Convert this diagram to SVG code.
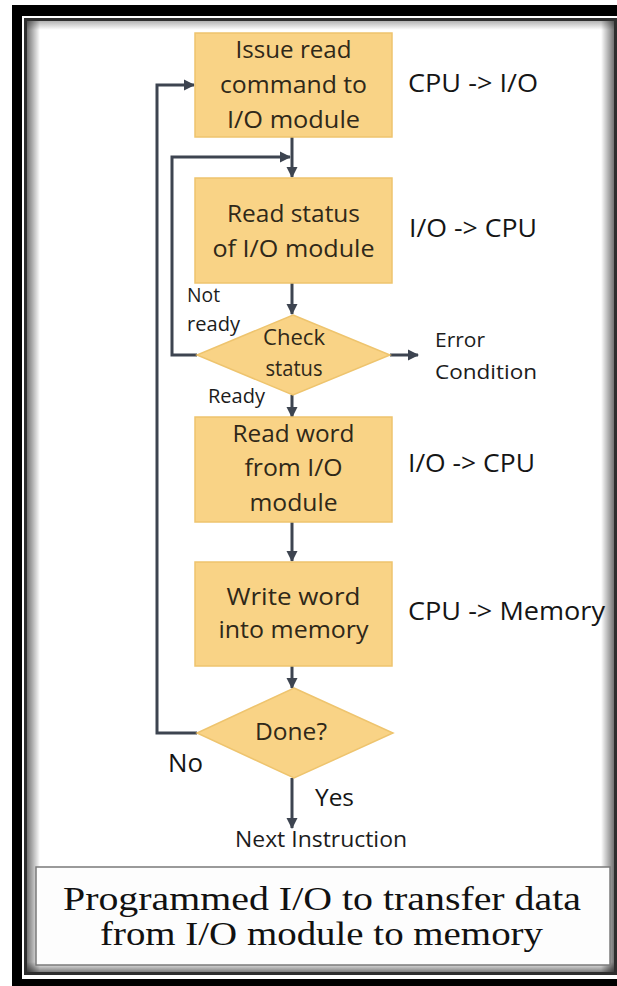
<svg xmlns="http://www.w3.org/2000/svg" width="617" height="986" viewBox="0 0 617 986">
<style>
.box{fill:#F9D386;stroke:#EEC46E;stroke-width:1.5}
.bt{font-family:"Open Sans","Noto Sans",sans-serif;font-size:24px;fill:#2f2819;text-anchor:middle}
.lt{font-family:"Open Sans","Noto Sans",sans-serif;font-size:26px;fill:#151515}
.st{font-family:"Open Sans","Noto Sans",sans-serif;font-size:20px;fill:#1c1c1c}
.cap{font-family:"Liberation Serif","DejaVu Serif",serif;font-size:33px;fill:#111;text-anchor:middle}
.ln{fill:none;stroke:#3d4450;stroke-width:3}
.ar{fill:none;stroke:#3d4450;stroke-width:3;marker-end:url(#ah)}
</style>
<defs>
<marker id="ah" markerUnits="userSpaceOnUse" markerWidth="12" markerHeight="12" refX="10" refY="5.5" orient="auto" viewBox="0 0 12 11">
<path d="M0,0 L11,5.5 L0,11 z" fill="#3d4450"/>
</marker>
<linearGradient id="gl" x1="0" y1="0" x2="1" y2="0"><stop offset="0" stop-color="#000" stop-opacity="0.55"/><stop offset="1" stop-color="#000" stop-opacity="0"/></linearGradient>
<linearGradient id="gr" x1="1" y1="0" x2="0" y2="0"><stop offset="0" stop-color="#000" stop-opacity="0.55"/><stop offset="1" stop-color="#000" stop-opacity="0"/></linearGradient>
<linearGradient id="gt" x1="0" y1="0" x2="0" y2="1"><stop offset="0" stop-color="#000" stop-opacity="0.3"/><stop offset="1" stop-color="#000" stop-opacity="0"/></linearGradient>
<linearGradient id="gb" x1="0" y1="1" x2="0" y2="0"><stop offset="0" stop-color="#000" stop-opacity="0.5"/><stop offset="1" stop-color="#000" stop-opacity="0"/></linearGradient>
</defs>

<g id="frame">
<rect x="12" y="5" width="620" height="990" fill="#000"/>
<rect x="22" y="16" width="610" height="963" fill="#fff"/>
<rect x="25.5" y="19.5" width="590" height="954" fill="#fff" stroke="#2e2e2e" stroke-width="3"/>
<rect x="27" y="21" width="13" height="951" fill="url(#gl)"/>
<rect x="601" y="21" width="13" height="951" fill="url(#gr)"/>
<rect x="27" y="21" width="587" height="9" fill="url(#gt)"/>
<rect x="27" y="962" width="587" height="10" fill="url(#gb)"/>
</g>

<g id="connectors">
<path class="ar" d="M292,137 V177"/>
<path class="ar" d="M197,355 H172 V157 H290"/>
<path class="ar" d="M292,283 V314"/>
<path class="ar" d="M390,355 H418"/>
<path class="ar" d="M292,395 V417"/>
<path class="ar" d="M292,522 V561"/>
<path class="ar" d="M292,666 V688"/>
<path class="ar" d="M197,733 H157 V85 H194"/>
<path class="ar" d="M292,778 V828"/>
</g>

<g id="issue">
<rect class="box" x="195" y="33" width="197" height="104"/>
<text class="bt" x="293.5" y="58" textLength="116" lengthAdjust="spacingAndGlyphs">Issue read</text>
<text class="bt" x="293.5" y="93" textLength="147" lengthAdjust="spacingAndGlyphs">command to</text>
<text class="bt" x="293.5" y="128" textLength="133" lengthAdjust="spacingAndGlyphs">I/O module</text>
</g>
<g id="lbl1"><text class="lt" x="408" y="92" textLength="130" lengthAdjust="spacingAndGlyphs">CPU -&gt; I/O</text></g>

<g id="readstatus">
<rect class="box" x="195" y="178" width="197" height="105"/>
<text class="bt" x="293.5" y="222" textLength="133" lengthAdjust="spacingAndGlyphs">Read status</text>
<text class="bt" x="293.5" y="257" textLength="162" lengthAdjust="spacingAndGlyphs">of I/O module</text>
</g>
<g id="lbl2"><text class="lt" x="409" y="237" textLength="128" lengthAdjust="spacingAndGlyphs">I/O -&gt; CPU</text></g>

<g id="check">
<polygon class="box" points="293,315 390,355 293,395 197,355"/>
<text class="bt" x="294" y="345" style="font-size:21px" textLength="62" lengthAdjust="spacingAndGlyphs">Check</text>
<text class="bt" x="294" y="376" style="font-size:21px" textLength="57" lengthAdjust="spacingAndGlyphs">status</text>
</g>
<g id="labels-check">
<text class="st" x="187" y="302" textLength="33" lengthAdjust="spacingAndGlyphs">Not</text>
<text class="st" x="187" y="331" textLength="53" lengthAdjust="spacingAndGlyphs">ready</text>
<text class="st" x="208" y="403" textLength="57" lengthAdjust="spacingAndGlyphs">Ready</text>
<text class="st" x="435" y="347" textLength="50" lengthAdjust="spacingAndGlyphs">Error</text>
<text class="st" x="435" y="379" textLength="102" lengthAdjust="spacingAndGlyphs">Condition</text>
</g>

<g id="readword">
<rect class="box" x="195" y="417" width="197" height="105"/>
<text class="bt" x="293.5" y="442" textLength="122" lengthAdjust="spacingAndGlyphs">Read word</text>
<text class="bt" x="293.5" y="476" textLength="98" lengthAdjust="spacingAndGlyphs">from I/O</text>
<text class="bt" x="293.5" y="511" textLength="88" lengthAdjust="spacingAndGlyphs">module</text>
</g>
<g id="lbl3"><text class="lt" x="408" y="472" textLength="127" lengthAdjust="spacingAndGlyphs">I/O -&gt; CPU</text></g>

<g id="writeword">
<rect class="box" x="195" y="562" width="197" height="104"/>
<text class="bt" x="293.5" y="605" textLength="134" lengthAdjust="spacingAndGlyphs">Write word</text>
<text class="bt" x="293.5" y="638" textLength="150" lengthAdjust="spacingAndGlyphs">into memory</text>
</g>
<g id="lbl4"><text class="lt" x="408" y="620" textLength="197" lengthAdjust="spacingAndGlyphs">CPU -&gt; Memory</text></g>

<g id="done">
<polygon class="box" points="294,688 393,733 294,778 197,733"/>
<text class="bt" x="291" y="740" textLength="72" lengthAdjust="spacingAndGlyphs">Done?</text>
</g>
<g id="labels-done">
<text class="lt" x="168" y="772" style="font-size:25px" textLength="35" lengthAdjust="spacingAndGlyphs">No</text>
<text class="lt" x="315" y="806" style="font-size:24px" textLength="39" lengthAdjust="spacingAndGlyphs">Yes</text>
<text class="st" x="235" y="847" style="font-size:21px" textLength="172" lengthAdjust="spacingAndGlyphs">Next Instruction</text>
</g>

<g id="caption">
<rect x="36" y="867" width="574" height="98" fill="#fdfdfd" stroke="#7a7a7a" stroke-width="1.5"/>
<text class="cap" x="322" y="910" textLength="518" lengthAdjust="spacingAndGlyphs">Programmed I/O to transfer data</text>
<text class="cap" x="321.5" y="945" textLength="443" lengthAdjust="spacingAndGlyphs">from I/O module to memory</text>
</g>
</svg>
